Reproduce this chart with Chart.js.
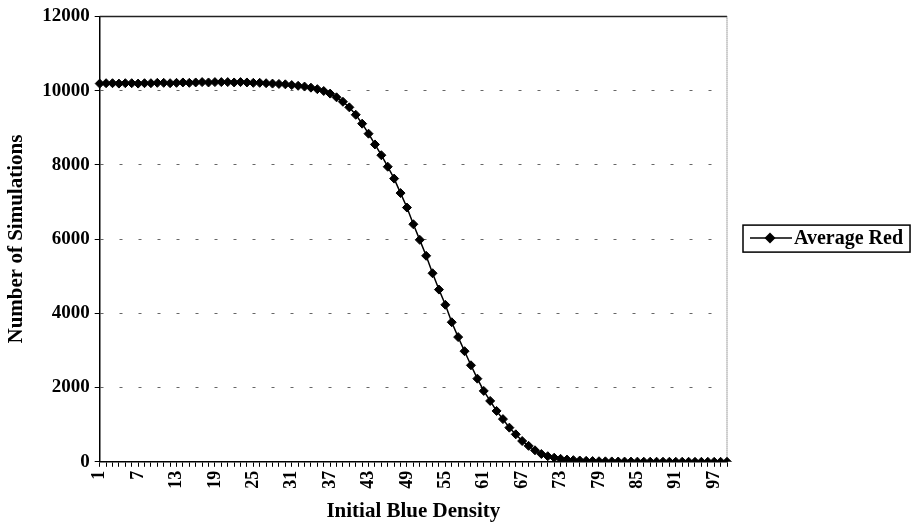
<!DOCTYPE html>
<html>
<head>
<meta charset="utf-8">
<script src="https://cdn.jsdelivr.net/npm/chart.js@4.4.1/dist/chart.umd.min.js"></script>
<style>
    html, body { margin: 0; padding: 0; background: #fff; }
</style>
</head>
<body>
<canvas id="lineChart" width="914" height="527"></canvas>
<script>
// x categories: initial blue density
const densities = [
    1, 2, 3, 4, 5, 6, 7, 8, 9, 10, 11, 12, 13, 14, 15, 16, 17, 18, 19, 20,
    21, 22, 23, 24, 25, 26, 27, 28, 29, 30, 31, 32, 33, 34, 35, 36, 37, 38, 39, 40,
    41, 42, 43, 44, 45, 46, 47, 48, 49, 50, 51, 52, 53, 54, 55, 56, 57, 58, 59, 60,
    61, 62, 63, 64, 65, 66, 67, 68, 69, 70, 71, 72, 73, 74, 75, 76, 77, 78, 79, 80,
    81, 82, 83, 84, 85, 86, 87, 88, 89, 90, 91, 92, 93, 94, 95, 96, 97, 98, 99
];

// series
const averageRed = [
    10190, 10200, 10200, 10190, 10200, 10200, 10190, 10200, 10200, 10210,
    10210, 10200, 10210, 10220, 10210, 10220, 10230, 10220, 10230, 10230,
    10230, 10220, 10230, 10220, 10210, 10210, 10200, 10190, 10180, 10170,
    10150, 10130, 10110, 10080, 10040, 9990, 9920, 9820, 9700, 9550,
    9350, 9110, 8840, 8550, 8260, 7950, 7630, 7240, 6850, 6400,
    5980, 5550, 5080, 4640, 4230, 3760, 3360, 2980, 2600, 2240,
    1910, 1640, 1370, 1150, 920, 740, 560, 430, 310, 210,
    150, 110, 80, 60, 45, 35, 25, 20, 15, 12,
    10, 8, 6, 5, 4, 3, 3, 2, 2, 1,
    1, 1, 1, 0, 0, 0, 0, 0, 0
];

const yTicks = [0, 2000, 4000, 6000, 8000, 10000, 12000];
const labelEvery = 6;
const seriesName = 'Average Red';

const serif = "'Liberation Serif', 'Times New Roman', serif";
Chart.defaults.font.family = serif;
Chart.defaults.font.weight = 'bold';
Chart.defaults.color = '#000';

// plot area frame (top solid, right dotted) and the boxed legend
const framePlugin = {
    id: 'frame',
    beforeDatasetsDraw(chart) {
        const {ctx, chartArea: a} = chart;
        ctx.save();
        ctx.strokeStyle = '#222';
        ctx.lineWidth = 1.5;
        ctx.beginPath();
        ctx.moveTo(a.left, a.top);
        ctx.lineTo(a.right, a.top);
        ctx.stroke();
        ctx.strokeStyle = '#555';
        ctx.lineWidth = 1;
        ctx.setLineDash([1, 1]);
        ctx.beginPath();
        ctx.moveTo(a.right, a.top);
        ctx.lineTo(a.right, a.bottom);
        ctx.stroke();
        ctx.restore();
    },
    afterDraw(chart) {
        const {ctx, chartArea: a} = chart;
        const left = a.right + 16;
        const cy = (a.top + a.bottom) / 2 - 1;
        ctx.save();
        ctx.font = 'bold 20px ' + serif;
        const tw = ctx.measureText(seriesName).width;
        const w = 51 + tw + 7;
        ctx.strokeStyle = '#000';
        ctx.lineWidth = 1.5;
        ctx.strokeRect(left, cy - 13, w, 27);
        // line + diamond symbol
        ctx.lineWidth = 1.5;
        ctx.beginPath();
        ctx.moveTo(left + 7, cy);
        ctx.lineTo(left + 49, cy);
        ctx.stroke();
        ctx.fillStyle = '#000';
        ctx.beginPath();
        ctx.moveTo(left + 27, cy - 5.5);
        ctx.lineTo(left + 32.5, cy);
        ctx.lineTo(left + 27, cy + 5.5);
        ctx.lineTo(left + 21.5, cy);
        ctx.closePath();
        ctx.fill();
        ctx.textBaseline = 'middle';
        ctx.textAlign = 'left';
        ctx.fillText(seriesName, left + 51, cy + 1);
        ctx.restore();
    }
};

const lineChart = document.getElementById('lineChart').getContext('2d');
const chart = new Chart(lineChart, {
    type: 'line',
    data: {
        labels: densities,
        datasets: [{
            label: seriesName,
            data: averageRed,
            borderColor: '#000',
            backgroundColor: '#000',
            borderWidth: 1.5,
            pointStyle: 'rectRot',
            pointRadius: 4.5,
            pointBorderWidth: 1,
            tension: 0
        }]
    },
    options: {
        responsive: false,
        animation: false,
        layout: {
            padding: {left: 4, right: 187, top: 0, bottom: 3}
        },
        plugins: {
            tooltip: {enabled: false},
            legend: {display: false}
        },
        scales: {
            x: {
                offset: false,
                grid: {
                    display: true,
                    drawOnChartArea: false,
                    drawTicks: true,
                    tickLength: 5,
                    tickColor: '#000'
                },
                border: {color: '#000', width: 1.5},
                ticks: {
                    autoSkip: false,
                    maxRotation: 90,
                    minRotation: 90,
                    padding: 4,
                    font: {size: 18, weight: 'bold'},
                    callback: (v, i) => (i % labelEvery === 0 ? String(densities[i]) : '')
                },
                title: {
                    display: true,
                    text: 'Initial Blue Density',
                    font: {size: 21, weight: 'bold'},
                    padding: {top: 6, bottom: 0}
                }
            },
            y: {
                min: yTicks[0],
                max: yTicks[yTicks.length - 1],
                grid: {
                    color: ctx => (ctx.tick && ctx.tick.value > yTicks[0] && ctx.tick.value < yTicks[yTicks.length - 1]) ? '#666' : 'rgba(0,0,0,0)',
                    tickColor: '#000',
                    tickLength: 5,
                    lineWidth: 1
                },
                border: {color: '#000', width: 1.5, dash: [3, 16]},
                afterBuildTicks: axis => {
                    axis.ticks = yTicks.map(v => ({value: v}));
                },
                ticks: {
                    padding: 5,
                    font: {size: 19, weight: 'bold'},
                    callback: v => String(v)
                },
                title: {
                    display: true,
                    text: 'Number of Simulations',
                    font: {size: 21, weight: 'bold'},
                    padding: {top: 0, bottom: 8}
                }
            }
        }
    },
    plugins: [framePlugin]
});
</script>
</body>
</html>
